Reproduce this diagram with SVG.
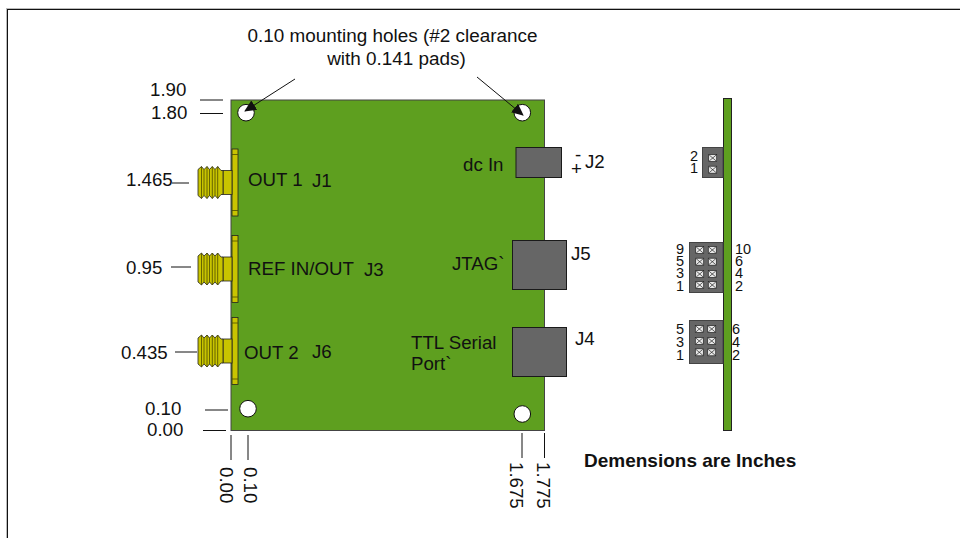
<svg xmlns="http://www.w3.org/2000/svg" width="960" height="538" viewBox="0 0 960 538">
<defs>
<style>
text{font-family:"Liberation Sans",Arial,sans-serif;font-size:18.7px;fill:#111}
.top{font-size:18.9px}
.sm{font-size:14.5px}
.b{font-weight:bold;font-size:19px}
.ln{stroke:#111;stroke-width:1;fill:none}
.board{fill:#5e9f1f;stroke:#444;stroke-width:1}
.hole{fill:#fff;stroke:#111;stroke-width:1}
.conn{fill:#666;stroke:#1a1a1a;stroke-width:1}
.hdr{fill:#666;stroke:#444;stroke-width:1}
.y{fill:#c8c400;stroke:#222;stroke-width:.8}
.th{fill:none;stroke:#4d4b00;stroke-width:.8}
.pin{fill:#e8e8e8;stroke:#222;stroke-width:.7}
.px{stroke:#222;stroke-width:.7}
</style>
<g id="sma">
<rect x="0" y="-33.500" width="6" height="67" class="y"/>
<path d="M0-28H6M0 28H6" class="th"/>
<rect x="-9" y="-12" width="9" height="24" class="y"/>
<path d="M-34-13L-30.500-16-28-13-25-16-22.500-13-19.700-16-17-13-14.300-16-11-12H-9V12H-11L-14.300 16-17 13-19.700 16-22.500 13-25 16-28 13-30.500 16-34 13z" class="y"/>
<path d="M-30.500-16V16M-28-13V13M-25-16V16M-22.500-13V13M-19.700-16V16M-17-13V13M-14.300-16V16" class="th"/>
</g>
<g id="pin">
<rect x="-4" y="-3.500" width="8" height="7" class="pin"/>
<path d="M-3.500-3L3.500 3M3.500-3L-3.500 3" class="px"/>
</g>
<marker id="ah" markerWidth="12" markerHeight="12" refX="11" refY="6" orient="auto" markerUnits="userSpaceOnUse"><path d="M0 0.500L12 6 0 11.500z" fill="#111"/></marker>
</defs>
<rect x="6.500" y="8.500" width="990" height="570" fill="#fff" stroke="#bbb"/>
<rect x="7.500" y="9.500" width="990" height="570" fill="#fff" stroke="#111"/>
<g id="board"><rect x="231" y="100" width="313.500" height="330.500" class="board"/></g>
<g id="holes">
<circle cx="246" cy="112.700" r="8.300" class="hole"/>
<circle cx="522.300" cy="112.700" r="8.300" class="hole"/>
<circle cx="248" cy="408.700" r="8.300" class="hole"/>
<circle cx="522.300" cy="414" r="8.300" class="hole"/>
</g>
<g id="j1"><use href="#sma" x="232" y="182.500"/></g>
<g id="j3"><use href="#sma" x="232" y="269"/></g>
<g id="j6"><use href="#sma" x="232" y="351"/></g>
<g id="j2"><rect x="516" y="147.500" width="45.500" height="30" class="conn"/></g>
<g id="j5"><rect x="512.500" y="240.500" width="54" height="49" class="conn"/></g>
<g id="j4"><rect x="512.500" y="327.500" width="54" height="49" class="conn"/></g>
<g id="side-board"><rect x="723.500" y="98.500" width="8" height="332" fill="#5e9f1f" stroke="#222"/></g>
<g id="side-j2"><rect x="702.500" y="147.500" width="20.500" height="30" class="hdr"/><use href="#pin" x="712.700" y="158"/><use href="#pin" x="712.700" y="169.700"/></g>
<g id="side-j5"><rect x="689.500" y="242.500" width="33.500" height="50" class="hdr"/>
<use href="#pin" x="699.700" y="250"/><use href="#pin" x="712.300" y="250"/><use href="#pin" x="699.700" y="261.700"/><use href="#pin" x="712.300" y="261.700"/><use href="#pin" x="699.700" y="274"/><use href="#pin" x="712.300" y="274"/><use href="#pin" x="699.700" y="285"/><use href="#pin" x="712.300" y="285"/></g>
<g id="side-j4"><rect x="689.500" y="320.500" width="33.500" height="43" class="hdr"/>
<use href="#pin" x="699.300" y="329"/><use href="#pin" x="711.700" y="329"/><use href="#pin" x="699.300" y="341"/><use href="#pin" x="711.700" y="341"/><use href="#pin" x="699.300" y="352.300"/><use href="#pin" x="711.700" y="352.300"/></g>
<g id="connectors">
<path class="ln" d="M295 79L245 111" marker-end="url(#ah)"/>
<path class="ln" d="M477 77L523 115" marker-end="url(#ah)"/>
<path class="ln" d="M200 100H223M200 113.500H223M172 183H189M171 267H191M175 352H197M205 410H228M203 430.500H226"/>
<path class="ln" d="M231 435V460M248 435V460M522 433V458M544.500 433V458"/>
</g>
<g id="labels">
<text x="392.500" y="42" text-anchor="middle" class="top">0.10 mounting holes (#2 clearance</text>
<text x="396.500" y="65" text-anchor="middle" class="top">with 0.141 pads)</text>
<text x="150" y="96">1.90</text>
<text x="151" y="119">1.80</text>
<text x="126" y="186">1.465</text>
<text x="126" y="274">0.95</text>
<text x="121" y="359">0.435</text>
<text x="145" y="415">0.10</text>
<text x="147" y="436">0.00</text>
<text x="248" y="186">OUT 1</text>
<text x="312" y="187">J1</text>
<text x="248" y="275">REF IN/OUT</text>
<text x="364" y="276">J3</text>
<text x="244" y="359">OUT 2</text>
<text x="312" y="358">J6</text>
<text x="463" y="171">dc In</text>
<text x="575" y="161">-</text>
<text x="571" y="175">+</text>
<text x="585" y="168">J2</text>
<text x="452" y="270">JTAG`</text>
<text x="571" y="260">J5</text>
<text x="575" y="345">J4</text>
<text x="411" y="349">TTL Serial</text>
<text x="411" y="370">Port`</text>
<text transform="translate(220 467) rotate(90)">0.00</text>
<text transform="translate(244 467) rotate(90)">0.10</text>
<text transform="translate(510 462) rotate(90)">1.675</text>
<text transform="translate(537 462) rotate(90)">1.775</text>
<text x="584" y="467" class="b">Demensions are Inches</text>
<text x="690" y="161" class="sm">2</text>
<text x="690" y="173" class="sm">1</text>
<text x="676" y="254" class="sm">9</text>
<text x="676" y="266" class="sm">5</text>
<text x="676" y="278" class="sm">3</text>
<text x="676" y="291" class="sm">1</text>
<text x="735" y="254" class="sm">10</text>
<text x="735" y="266" class="sm">6</text>
<text x="735" y="278" class="sm">4</text>
<text x="735" y="291" class="sm">2</text>
<text x="676" y="334" class="sm">5</text>
<text x="676" y="347" class="sm">3</text>
<text x="676" y="360" class="sm">1</text>
<text x="732" y="334" class="sm">6</text>
<text x="732" y="347" class="sm">4</text>
<text x="732" y="360" class="sm">2</text>
</g>
</svg>
